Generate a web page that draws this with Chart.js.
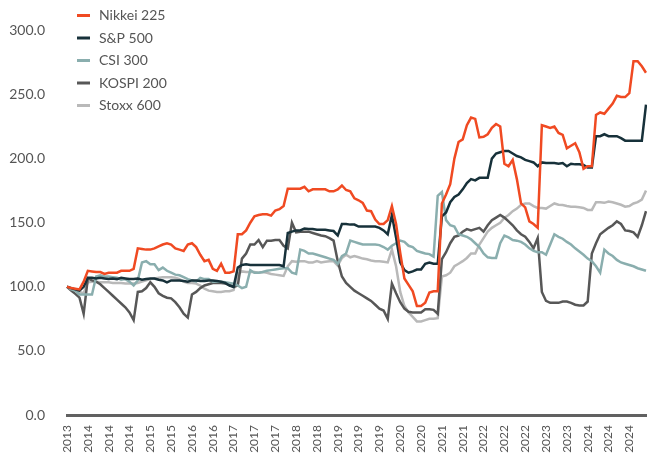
<!DOCTYPE html>
<html>
<head>
<meta charset="utf-8">
<script src="https://cdn.jsdelivr.net/npm/chart.js@4/dist/chart.umd.min.js"></script>
<style>
    html, body { margin: 0; padding: 0; background: #fff; }
    #wrap { width: 647px; height: 456px; }
</style>
</head>
<body>
<div id="wrap"><canvas id="indexChart" width="647" height="456"></canvas></div>
<script>
'use strict';

/** Equity indices, rebased to 100 (monthly from Sep 2013) */

const startYear = 2013;
const startMonth = 9;
const labelEvery = 5;

const seriesNames = ['Nikkei 225', 'S&P 500', 'CSI 300', 'KOSPI 200', 'Stoxx 600'];
const seriesColors = ['#f04a22', '#17313a', '#8aaeae', '#575757', '#b9b9b9'];

const nikkei = [
    100, 99, 98.5, 98, 104, 112.5, 112, 111.5, 111.5, 110,
    111, 111, 111, 112.5, 112.5, 112.5, 114, 130, 129.5, 129,
    129, 130, 131.5, 133, 134, 133, 130, 129, 128, 133,
    134, 131, 125, 120, 121, 114, 112.5, 118, 111, 111,
    112, 141, 141, 144, 150, 155, 156, 156.5, 156.5, 155.5,
    159.5, 160.5, 163, 176.5, 176.5, 176.5, 176.5, 178, 174.5, 176,
    176, 176, 176, 174.5, 174.5, 176, 179, 175.5, 174.5, 169,
    167.5, 165.5, 159.5, 159, 152.5, 149, 149, 152, 163, 149,
    126.5, 106.5, 101.5, 96.5, 85, 85, 87.5, 95.5, 96.5, 96.5,
    165, 172, 180, 200, 213, 215, 226, 232, 231, 216.5,
    217, 219, 224, 227, 225, 196, 194, 199, 184, 165,
    162, 151, 149, 146, 226, 225, 224, 225, 220, 218.5,
    208, 210, 212, 205, 192, 194, 194, 234, 236, 235,
    239, 243, 249, 248, 248, 251, 276, 276, 272, 267,
];

const sp500 = [
    100, 99, 98, 97, 100, 107, 107, 106.5, 107, 106.5,
    106, 106.5, 106, 107, 106.5, 106, 106, 106.5, 105.5, 106,
    106.5, 106.5, 105.5, 105, 103.5, 105, 105, 105, 104.5, 104,
    105, 105, 104.5, 104.5, 105, 105, 104.5, 104, 103, 101,
    100, 115, 117, 117.5, 117, 117, 117, 117, 117, 117,
    117, 117, 116, 142, 143, 144, 144, 145.5, 145, 145,
    144.5, 144.5, 144.5, 144, 143.5, 140, 149, 149, 148.5, 148.5,
    147, 147, 147, 147, 147, 146, 144, 141, 156, 138.5,
    119, 113, 111, 112, 113.5, 113.5, 118, 119, 118, 118,
    155, 158, 166, 170, 172, 176, 181, 184, 183, 185,
    185, 185, 200, 204, 205, 206, 206, 204, 202, 201,
    199, 198, 197, 194, 197, 196.5, 196.5, 196.5, 196, 196.5,
    194, 196, 195.5, 195.5, 195, 193, 193, 217.5, 217.5, 219,
    217.5, 217.5, 217.5, 216, 214, 214, 214, 214, 214, 242,
];

const csi300 = [
    100, 98, 97, 94, 94, 94, 94, 108, 109, 108,
    108, 107.5, 107, 105.5, 106, 104, 101, 105, 119, 120,
    117.5, 117.5, 113, 115, 112.5, 111, 109.5, 109, 107.5, 106,
    105, 104, 107, 106, 106, 104, 104, 104, 103.5, 103,
    102.5, 101, 99, 100, 113, 111, 111, 111.5, 112.5, 113,
    113.5, 114, 114.5, 114.5, 111, 110, 129, 128, 126, 126,
    125, 124, 123, 122, 121, 118, 124, 126, 136, 135,
    134, 133, 133, 133, 133, 132.5, 131, 129, 132, 134,
    136, 135, 132, 131, 128, 127, 126, 125.5, 123.5, 171,
    174, 152, 148, 147, 141, 140, 139, 137, 134, 131,
    126, 123, 122.5, 122.5, 134, 140, 138.5, 136.5, 136, 135,
    133, 130, 128, 127, 127, 125, 133, 141, 139, 137.5,
    135, 133, 130, 127.5, 125, 122, 120, 116, 111, 129,
    126, 124, 121, 119, 118, 117, 116, 114.5, 113.5, 112.5,
];

const kospi200 = [
    100, 97, 94.5, 91.5, 79, 106.5, 105, 104, 102, 99,
    96, 93, 90, 87, 84, 80, 74, 96, 96.5, 99,
    103.5, 100, 95, 93, 91.5, 91, 88, 84, 79, 76,
    94, 96, 99, 101, 102, 103, 103, 103, 102.5, 101.5,
    100, 101, 122, 126, 133, 133, 136.5, 131, 136, 136,
    136.5, 136.5, 132, 130, 150, 142.5, 143, 143, 143, 142,
    141, 140, 139.5, 138, 136, 120, 108, 103, 100, 97,
    95, 93, 91, 89, 86, 83, 81.5, 75, 102.5, 95,
    88, 83, 80.5, 80, 80, 80, 82.5, 82.5, 82, 79,
    121.5, 127, 134, 139, 140, 143, 145, 144, 145, 146,
    143, 148, 152, 154, 156, 154, 151, 148, 144, 141,
    139, 135, 130, 138, 96, 89, 87.5, 87.5, 87.5, 88.5,
    88.5, 87.5, 86, 85.5, 85.5, 88.5, 126, 134, 141, 143.5,
    146, 148, 151, 149, 144, 143.5, 142.5, 139, 148, 159,
];

const stoxx600 = [
    100, 99, 97, 96, 95, 103.5, 104, 104, 103.5, 103.5,
    103.5, 103, 103, 103, 102.5, 102.5, 102.5, 103, 104, 105,
    106, 106.5, 107, 107.5, 107.5, 107.5, 107, 106, 104, 103,
    103, 102.5, 101, 98.5, 97, 96.5, 96, 96, 96.5, 96.5,
    97.5, 110, 112, 111.5, 111.5, 111.5, 111, 111.5, 111, 110,
    109.5, 109, 108.5, 116, 120, 119.5, 120, 120, 119, 119,
    120, 119, 119.5, 120, 120, 116.5, 122.5, 125, 123, 124,
    123, 122, 121.5, 120.5, 120, 120, 119.5, 119, 129, 116,
    96, 85, 80, 76.5, 73, 73, 74, 75, 75, 75.5,
    108, 109, 111, 116, 118, 120, 122.5, 126, 126, 133,
    138, 143, 146, 148, 150, 153.8, 156, 159, 161, 164,
    165, 165, 163, 161.5, 161.5, 161, 163, 165, 164, 163.8,
    163, 162.5, 162.5, 162, 161.5, 160, 160, 166, 166, 165.5,
    166.5, 166, 165, 164, 162.5, 163, 165, 166, 168, 175,
];

const yTicks = { min: 0, max: 300, step: 50 };

const seriesValues = [nikkei, sp500, csi300, kospi200, stoxx600];

function buildMonthLabels(count) {
    let labels = [];
    for (let i = 0; i < count; i++) {
        const m = startMonth - 1 + i;
        const year = startYear + Math.floor(m / 12);
        const month = (m % 12) + 1;
        labels.push(`${year}-${month < 10 ? '0' + month : month}`);
    }
    return labels;
}

const monthLabels = buildMonthLabels(nikkei.length);

// legend drawn inside the plot, top left, one entry per row
const insideLegend = {
    id: 'insideLegend',
    afterDraw(chart) {
        const { ctx } = chart;
        ctx.save();
        ctx.font = '14px Lato';
        ctx.textBaseline = 'middle';
        ctx.textAlign = 'left';
        chart.data.datasets.forEach((ds, i) => {
            const y = 15.5 + i * 22.5;
            ctx.strokeStyle = ds.borderColor;
            ctx.lineWidth = 3;
            ctx.beginPath();
            ctx.moveTo(77, y);
            ctx.lineTo(90, y);
            ctx.stroke();
            ctx.fillStyle = '#555';
            ctx.fillText(ds.label, 99, y);
        });
        ctx.restore();
    },
};

const indexCtx = document.getElementById('indexChart').getContext('2d');
const indexChart = new Chart(indexCtx, {
    type: 'line',
    data: {
        labels: monthLabels,
        datasets: seriesNames.map((name, i) => ({
            label: name,
            data: seriesValues[i],
            borderColor: seriesColors[i],
            backgroundColor: seriesColors[i],
            borderWidth: 2.5,
            pointRadius: 0,
            tension: 0,
            fill: false,
        })),
    },
    options: {
        responsive: false,
        animation: false,
        events: [],
        layout: {
            padding: { top: 14, right: 1, bottom: 0, left: 0 },
        },
        plugins: {
            legend: { display: false },
            tooltip: { enabled: false },
        },
        scales: {
            x: {
                type: 'category',
                offset: false,
                grid: { display: false, drawTicks: false },
                border: { display: true, color: '#616161', width: 3 },
                ticks: {
                    autoSkip: false,
                    minRotation: 90,
                    maxRotation: 90,
                    padding: 10,
                    color: '#555',
                    font: { family: 'Lato', size: 12 },
                    callback: (value, index) =>
                        index % labelEvery === 0 ? monthLabels[index].slice(0, 4) : null,
                },
                afterFit: (scale) => {
                    scale.height = 41;
                    scale.paddingLeft = 0;
                    scale.paddingRight = 0;
                },
            },
            y: {
                min: yTicks.min,
                max: yTicks.max,
                grid: { display: false, drawTicks: false },
                border: { display: false },
                ticks: {
                    stepSize: yTicks.step,
                    padding: 22,
                    color: '#555',
                    font: { family: 'Lato', size: 14 },
                    callback: (value) => value.toFixed(1),
                },
                afterFit: (scale) => {
                    scale.width = 67;
                },
            },
        },
    },
    plugins: [insideLegend],
});
</script>
</body>
</html>
